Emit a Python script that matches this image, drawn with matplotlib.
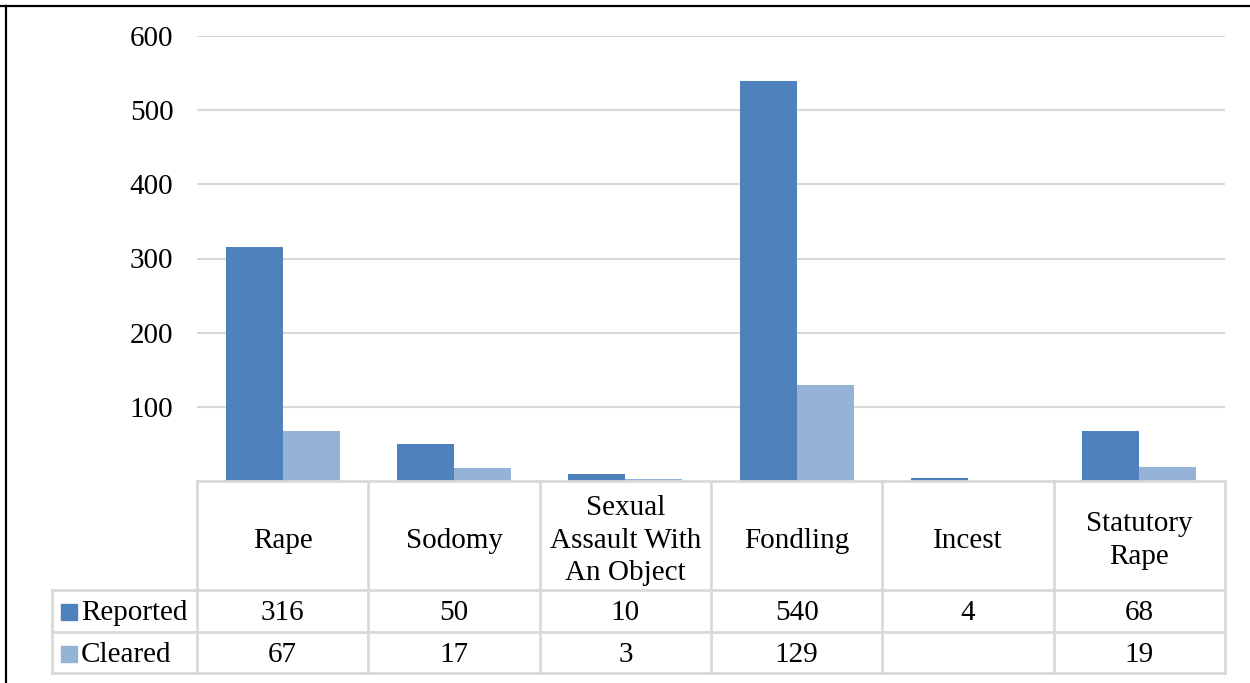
import numpy as np
import matplotlib.pyplot as plt
from matplotlib.patches import Rectangle

categories = ['Rape', 'Sodomy', 'Sexual\nAssault With\nAn Object', 'Fondling', 'Incest', 'Statutory\nRape']
series = ['Reported', 'Cleared']
reported = [316, 50, 10, 540, 4, 68]
cleared = [67, 17, 3, 129, None, 19]
colors = ['#4f81bd', '#95b3d7']
yticks = [100, 200, 300, 400, 500, 600]

plt.rcParams['font.family'] = ['Liberation Serif', 'DejaVu Serif']
FS = 21
GRID = '#d9d9d9'

W, H = 1250, 683
fig = plt.figure(figsize=(W / 100, H / 100), dpi=100)

# plot area in pixels
x0, x1 = 197, 1225
y_top, y_zero = 36, 481
ax = fig.add_axes([x0 / W, 1 - y_zero / H, (x1 - x0) / W, (y_zero - y_top) / H])

n = len(categories)
x = np.arange(n)
bw = 1 / 3
rep_vals = np.array(reported, dtype=float)
clr_vals = np.array([np.nan if v is None else v for v in cleared], dtype=float)
ax.bar(x - bw / 2, rep_vals, width=bw, color=colors[0], zorder=3)
ax.bar(x + bw / 2, np.nan_to_num(clr_vals), width=bw, color=colors[1], zorder=3)

ax.set_xlim(-0.5, n - 0.5)
ax.set_ylim(0, 600)
ax.set_yticks(yticks)
ax.set_yticklabels([str(t) for t in yticks], fontsize=FS)
ax.tick_params(axis='y', length=0, pad=17)
ax.set_xticks([])
ax.grid(axis='y', color=GRID, linewidth=1.5, zorder=0)
for s in ax.spines.values():
    s.set_visible(False)

# data table below the plot
t_left, t_bot = 52, 673
tax = fig.add_axes([t_left / W, 1 - t_bot / H, (x1 - t_left) / W, (t_bot - y_zero) / H])
col_w = (x1 - x0) / n
label_w = (x0 - t_left) / col_w
tax.set_xlim(-0.5 - label_w, n - 0.5)
tax.set_ylim(t_bot - y_zero, 0)
tax.axis('off')

r_head, r_rep, r_end = 109, 151, 192
lw = 2
kw = dict(color=GRID, linewidth=lw, solid_capstyle='projecting', clip_on=False)
tax.plot([-0.5, n - 0.5], [0, 0], **kw)
for yy in (r_head, r_rep, r_end):
    tax.plot([-0.5 - label_w, n - 0.5], [yy, yy], **kw)
for i in range(n + 1):
    tax.plot([i - 0.5, i - 0.5], [0, r_end], **kw)
tax.plot([-0.5 - label_w, -0.5 - label_w], [r_head, r_end], **kw)

for i, c in enumerate(categories):
    tax.text(i, r_head / 2 + 5, c, ha='center', va='center', fontsize=FS, linespacing=1.32)
    tax.text(i, (r_head + r_rep) / 2 + 2, str(reported[i]), ha='center', va='center', fontsize=FS)
    if cleared[i] is not None:
        tax.text(i, (r_rep + r_end) / 2 + 2, str(cleared[i]), ha='center', va='center', fontsize=FS)

# row labels with legend keys
sq = 16 / col_w
for name, col, (ya, yb) in zip(series, colors, [(r_head, r_rep), (r_rep, r_end)]):
    xs = -0.5 - label_w + 9 / col_w
    yc = (ya + yb) / 2
    tax.add_patch(Rectangle((xs, yc - 7), sq, 16, color=col, clip_on=False))
    tax.text(xs + sq + 4 / col_w, yc + 2, name, ha='left', va='center', fontsize=FS)

# outer frame lines (top and left)
fig.add_artist(plt.Line2D([0, 1], [1 - 6 / H, 1 - 6 / H], color='black', linewidth=1.6))
fig.add_artist(plt.Line2D([6 / W, 6 / W], [0, 1 - 6 / H], color='black', linewidth=1.6))

fig.savefig('out.png', dpi=100)
